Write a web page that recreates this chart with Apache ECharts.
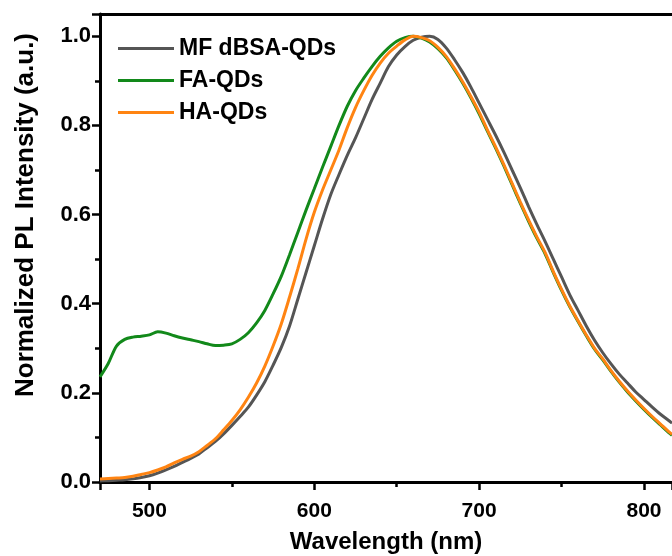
<!DOCTYPE html>
<html>
<head>
  <meta charset="utf-8">
  <title>PL spectra</title>
  <script src="https://cdn.jsdelivr.net/npm/echarts@6/dist/echarts.min.js"></script>
</head>
<body style="margin:0">
<div id="main" style="width: 672px;height:556px;"></div>
<script type="text/javascript">
  // wavelength grid (nm)
  var wavelength = [470, 475, 480, 485, 490, 495, 500, 505, 510, 515, 520, 525, 530, 535, 540, 545,
    550, 555, 560, 565, 570, 575, 580, 585, 590, 595, 600, 605, 610, 615, 620, 625, 630, 635, 640, 645,
    650, 655, 660, 665, 670, 675, 680, 685, 690, 695, 700, 705, 710, 715, 720, 725, 730, 735, 740, 745,
    750, 755, 760, 765, 770, 775, 780, 785, 790, 795, 800, 805, 810, 815, 817];

  var mfDbsa = [0.002, 0.003, 0.004, 0.005, 0.007, 0.010, 0.014, 0.020, 0.027, 0.035, 0.044, 0.053, 0.063, 0.077, 0.091, 0.108,
    0.127, 0.147, 0.168, 0.195, 0.225, 0.262, 0.302, 0.350, 0.410, 0.470, 0.530, 0.590, 0.645, 0.690, 0.733, 0.772, 0.815, 0.858, 0.895, 0.932,
    0.958, 0.977, 0.991, 0.998, 1.000, 0.993, 0.974, 0.948, 0.919, 0.886, 0.850, 0.814, 0.778, 0.740, 0.700, 0.660, 0.618, 0.578, 0.540, 0.500,
    0.460, 0.420, 0.385, 0.350, 0.318, 0.290, 0.265, 0.242, 0.222, 0.202, 0.185, 0.168, 0.152, 0.138, 0.132];

  var faQds = [0.236, 0.266, 0.305, 0.320, 0.325, 0.327, 0.330, 0.337, 0.334, 0.328, 0.323, 0.319, 0.315, 0.310, 0.306, 0.307,
    0.310, 0.320, 0.335, 0.357, 0.385, 0.422, 0.462, 0.510, 0.560, 0.610, 0.658, 0.706, 0.753, 0.800, 0.843, 0.878, 0.906, 0.932, 0.955, 0.974,
    0.989, 0.997, 1.000, 0.996, 0.987, 0.972, 0.952, 0.925, 0.895, 0.862, 0.826, 0.787, 0.749, 0.709, 0.667, 0.625, 0.585, 0.547, 0.512, 0.470,
    0.430, 0.393, 0.360, 0.328, 0.298, 0.274, 0.248, 0.224, 0.202, 0.182, 0.163, 0.145, 0.128, 0.111, 0.105];

  var haQds = [0.007, 0.008, 0.009, 0.010, 0.013, 0.017, 0.021, 0.027, 0.034, 0.043, 0.051, 0.058, 0.068, 0.082, 0.097, 0.117,
    0.138, 0.162, 0.190, 0.222, 0.260, 0.305, 0.355, 0.415, 0.478, 0.545, 0.605, 0.655, 0.700, 0.745, 0.795, 0.840, 0.878, 0.912, 0.940, 0.962,
    0.978, 0.992, 1.000, 0.997, 0.990, 0.975, 0.955, 0.928, 0.898, 0.865, 0.830, 0.790, 0.752, 0.712, 0.670, 0.628, 0.588, 0.550, 0.515, 0.472,
    0.432, 0.395, 0.362, 0.330, 0.300, 0.276, 0.250, 0.226, 0.204, 0.184, 0.165, 0.147, 0.130, 0.113, 0.107];

  var seriesNames = ['MF dBSA-QDs', 'FA-QDs', 'HA-QDs'];
  var seriesColors = ['#555555', '#12891a', '#ff8412'];

  function pairs(ys) {
    return wavelength.map(function (x, i) { return [x, ys[i]]; });
  }

  var font = '"Liberation Sans", Arial, sans-serif';
  var myChart = echarts.init(document.getElementById('main'));

  var option = {
    animation: false,
    backgroundColor: '#fff',
    textStyle: { fontFamily: font },
    grid: { left: 100, right: 0, top: 14, bottom: 74, outerBoundsMode: 'none' },
    legend: {
      orient: 'vertical',
      left: 113,
      top: 32,
      icon: 'rect',
      itemWidth: 56,
      itemHeight: 3,
      itemGap: 9,
      textStyle: { fontFamily: font, fontWeight: 'bold', fontSize: 23, color: '#000' },
      data: seriesNames
    },
    xAxis: [
      {
        type: 'value',
        min: 470,
        max: 817,
        splitNumber: 4,
        name: 'Wavelength (nm)',
        nameLocation: 'middle',
        nameGap: 48,
        nameTextStyle: { fontFamily: font, fontWeight: 'bold', fontSize: 24, color: '#000' },
        axisLine: { lineStyle: { color: '#000', width: 3 } },
        axisTick: { length: 8, lineStyle: { width: 2.5, color: '#000' } },
        minorTick: { show: true, splitNumber: 2, length: 5, lineStyle: { width: 2.5, color: '#000' } },
        axisLabel: {
          margin: 19, fontFamily: font, fontWeight: 'bold', fontSize: 21, color: '#000',
          showMinLabel: false, showMaxLabel: false
        },
        splitLine: { show: false }
      },
      {
        type: 'value',
        position: 'top',
        min: 470,
        max: 817,
        axisLine: { show: true, onZero: false, lineStyle: { color: '#000', width: 3 } },
        axisTick: { show: false },
        axisLabel: { show: false },
        splitLine: { show: false }
      }
    ],
    yAxis: {
      type: 'value',
      min: 0,
      max: 1.05,
      interval: 0.2,
      name: 'Normalized PL Intensity (a.u.)',
      nameLocation: 'middle',
      nameGap: 61,
      nameTextStyle: { fontFamily: font, fontWeight: 'bold', fontSize: 26, color: '#000', padding: [0, 0, 0, 66] },
      axisLine: { show: true, lineStyle: { color: '#000', width: 3 } },
      axisTick: { length: 8, lineStyle: { width: 2.5, color: '#000' } },
      minorTick: { show: true, splitNumber: 2, length: 5, lineStyle: { width: 2.5, color: '#000' } },
      axisLabel: {
        margin: 9,
        fontFamily: font, fontWeight: 'bold', fontSize: 22, color: '#000',
        showMaxLabel: false,
        formatter: function (v) { return v.toFixed(1); }
      },
      splitLine: { show: false }
    },
    series: [mfDbsa, faQds, haQds].map(function (ys, i) {
      return {
        name: seriesNames[i],
        type: 'line',
        data: pairs(ys),
        smooth: 0.3,
        symbol: 'none',
        lineStyle: { width: 3, color: seriesColors[i] },
        itemStyle: { color: seriesColors[i] }
      };
    })
  };

  myChart.setOption(option);
</script>
</body>
</html>
